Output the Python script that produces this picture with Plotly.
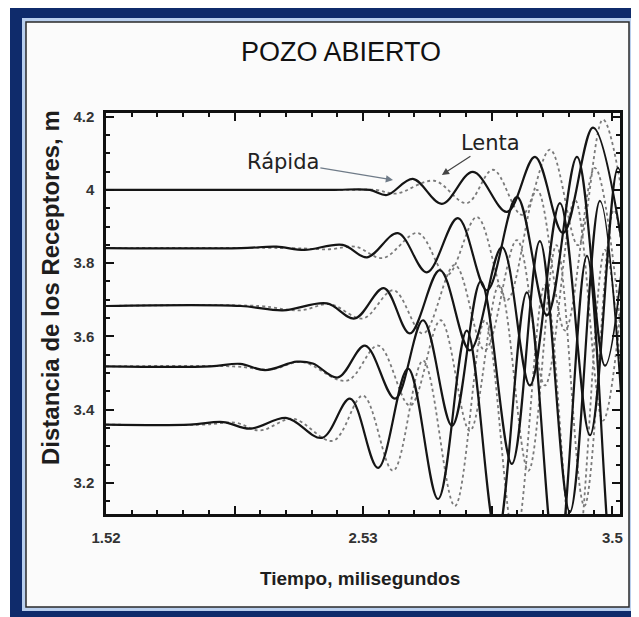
import plotly.graph_objects as go

# ---------------- data (time in ms, position in m) ----------------
x_tick_vals = [1.52, 2.025, 2.53, 3.035, 3.51]
x_tick_text = ["1.52", "", "2.53", "", "3.5"]
y_tick_vals = [3.2, 3.4, 3.6, 3.8, 4.0, 4.2]
y_tick_text = ["3.2", "3.4", "3.6", "3.8", "4", "4.2"]

# fast (Rápida) waves - solid
fast1_t = [1.52, 2.40, 2.557, 2.624, 2.726, 2.840, 2.962, 3.096, 3.206, 3.316, 3.434, 3.56]
fast1_y = [4.0, 4.0, 4.0, 3.986, 4.030, 3.962, 4.049, 3.940, 4.090, 3.882, 4.170, 3.80]
fast2_t = [1.52, 2.05, 2.19, 2.30, 2.45, 2.546, 2.667, 2.781, 2.903, 3.017, 3.135, 3.253, 3.371, 3.481, 3.59]
fast2_y = [3.841, 3.841, 3.845, 3.836, 3.850, 3.816, 3.882, 3.775, 3.923, 3.726, 3.981, 3.658, 4.090, 3.520, 4.10]
fast3_t = [1.52, 2.05, 2.215, 2.388, 2.498, 2.612, 2.714, 2.832, 2.950, 3.076, 3.186, 3.304, 3.422, 3.532, 3.64]
fast3_y = [3.683, 3.683, 3.671, 3.690, 3.649, 3.732, 3.608, 3.781, 3.562, 3.844, 3.466, 3.964, 3.330, 4.060, 3.25]
fast4_t = [1.52, 1.93, 2.047, 2.145, 2.270, 2.333, 2.432, 2.538, 2.656, 2.766, 2.880, 2.993, 3.115, 3.225, 3.343, 3.461, 3.58]
fast4_y = [3.518, 3.518, 3.525, 3.508, 3.531, 3.526, 3.488, 3.575, 3.430, 3.644, 3.356, 3.750, 3.252, 3.860, 3.120, 3.970, 3.05]
fast5_t = [1.52, 1.85, 1.980, 2.086, 2.231, 2.369, 2.479, 2.589, 2.707, 2.825, 2.938, 3.056, 3.174, 3.292, 3.410, 3.52, 3.63]
fast5_y = [3.359, 3.359, 3.366, 3.348, 3.377, 3.323, 3.430, 3.241, 3.512, 3.156, 3.616, 3.050, 3.720, 2.950, 3.820, 2.900, 3.90]

# slow (Lenta) waves - dotted
slow1_t = [1.52, 2.45, 2.580, 2.660, 2.810, 2.938, 3.041, 3.155, 3.265, 3.375, 3.473, 3.59]
slow1_y = [4.0, 4.0, 4.0, 3.990, 4.025, 3.964, 4.055, 3.932, 4.110, 3.849, 4.192, 3.80]
slow2_t = [1.52, 2.25, 2.40, 2.50, 2.608, 2.746, 2.860, 2.978, 3.096, 3.214, 3.324, 3.441, 3.56]
slow2_y = [3.841, 3.841, 3.838, 3.845, 3.814, 3.882, 3.767, 3.926, 3.699, 4.000, 3.616, 4.060, 3.50]
slow3_t = [1.52, 2.12, 2.282, 2.40, 2.530, 2.650, 2.766, 2.891, 3.009, 3.135, 3.245, 3.363, 3.473, 3.59]
slow3_y = [3.683, 3.683, 3.671, 3.688, 3.649, 3.726, 3.608, 3.795, 3.562, 3.863, 3.466, 3.973, 3.370, 4.05]
slow4_t = [1.52, 2.02, 2.17, 2.29, 2.467, 2.590, 2.715, 2.835, 2.950, 3.065, 3.180, 3.290, 3.400, 3.516, 3.63]
slow4_y = [3.518, 3.518, 3.510, 3.530, 3.479, 3.575, 3.411, 3.644, 3.342, 3.740, 3.233, 3.849, 3.137, 3.945, 3.05]
slow5_t = [1.52, 1.90, 2.03, 2.125, 2.255, 2.412, 2.530, 2.648, 2.766, 2.891, 3.009, 3.127, 3.245, 3.363, 3.481, 3.60]
slow5_y = [3.359, 3.359, 3.364, 3.343, 3.375, 3.315, 3.438, 3.233, 3.534, 3.137, 3.644, 3.041, 3.740, 2.959, 3.836, 2.90]

fast_series = [(fast1_t, fast1_y), (fast2_t, fast2_y), (fast3_t, fast3_y), (fast4_t, fast4_y), (fast5_t, fast5_y)]
slow_series = [(slow1_t, slow1_y), (slow2_t, slow2_y), (slow3_t, slow3_y), (slow4_t, slow4_y), (slow5_t, slow5_y)]

# ---------------- figure ----------------
fig = go.Figure()

for t, y in slow_series:
    fig.add_trace(go.Scatter(x=t, y=y, mode="lines",
                             line=dict(color="#7a7a7a", width=1.8, dash="dot", shape="spline", smoothing=1.0),
                             hoverinfo="skip"))
for t, y in fast_series:
    fig.add_trace(go.Scatter(x=t, y=y, mode="lines",
                             line=dict(color="#151515", width=2.2, shape="spline", smoothing=1.0),
                             hoverinfo="skip"))

# page has an 8px body margin: the figure starts at (8, 8) of the window
OFF = 8
W, H = 639 - OFF, 617 - OFF
L, T = 106 - OFF, 113 - OFF
pw, ph = 514, 401
R, B = W - L - pw, H - T - ph


def px(xs):
    """window x pixel -> paper coordinate"""
    return (xs - OFF - L) / pw


def py(ys):
    """window y pixel -> paper coordinate"""
    return (T + ph - (ys - OFF)) / ph


shapes = [
    # navy outer frame
    dict(type="rect", xref="paper", yref="paper", x0=px(10), x1=px(660), y0=py(640), y1=py(0),
         fillcolor="#0f2b6b", line=dict(width=0), layer="below"),
    # light blue inner line
    dict(type="rect", xref="paper", yref="paper", x0=px(22), x1=px(633), y0=py(611), y1=py(18),
         fillcolor="#b9cfee", line=dict(width=0), layer="below"),
    # white panel with dark edge
    dict(type="rect", xref="paper", yref="paper", x0=px(26), x1=px(629), y0=py(607), y1=py(22),
         fillcolor="#fbfbfb", line=dict(color="#2a2a2a", width=1.5), layer="below"),
]

annotations = [
    dict(text="POZO ABIERTO", xref="paper", yref="paper", x=px(341), y=py(52),
         showarrow=False, font=dict(family="Liberation Sans, Arial", size=27, color="#111111"),
         xanchor="center", yanchor="middle"),
    dict(text="Distancia de los Receptores, m", xref="paper", yref="paper", x=px(50), y=py(288),
         showarrow=False, textangle=-90,
         font=dict(family="Liberation Sans, Arial", size=24, color="#1e1e1e", weight="bold"),
         xanchor="center", yanchor="middle"),
    dict(text="Tiempo, milisegundos", xref="paper", yref="paper", x=px(360), y=py(578),
         showarrow=False, font=dict(family="Liberation Sans, Arial", size=19, color="#1e1e1e", weight="bold"),
         xanchor="center", yanchor="middle"),
    dict(text="Rápida", x=2.648, y=4.027, ax=2.215, ay=4.077, xref="x", yref="y", axref="x", ayref="y",
         showarrow=True, arrowhead=2, arrowsize=1.2, arrowwidth=1.2, arrowcolor="#6f7b88",
         font=dict(family="DejaVu Sans", size=21, color="#222222")),
    dict(text="Lenta", x=2.840, y=4.041, ax=3.033, ay=4.129, xref="x", yref="y", axref="x", ayref="y",
         showarrow=True, arrowhead=2, arrowsize=1.2, arrowwidth=1.2, arrowcolor="#444444",
         font=dict(family="DejaVu Sans", size=21, color="#222222")),
]

fig.update_layout(
    width=W, height=H, autosize=False,
    margin=dict(l=L, r=R, t=T, b=B, pad=0),
    paper_bgcolor="white", plot_bgcolor="white",
    showlegend=False, shapes=shapes, annotations=annotations,
)

axis_common = dict(showgrid=False, zeroline=False, showline=True, linecolor="#111111", linewidth=2.5,
                   mirror="allticks", ticks="inside", ticklen=8, tickwidth=2, tickcolor="#111111",
                   tickfont=dict(family="Liberation Sans, Arial", size=15, color="#333333", weight="bold"))

fig.update_xaxes(range=[1.52, 3.54], tickmode="array", tickvals=x_tick_vals, ticktext=x_tick_text,
                 ticklabelstandoff=8,
                 minor=dict(tickmode="linear", tick0=1.52, dtick=0.101, ticks="inside", ticklen=4,
                            tickwidth=1.5, tickcolor="#111111"),
                 **axis_common)
fig.update_yaxes(range=[3.115, 4.21], tickmode="array", tickvals=y_tick_vals, ticktext=y_tick_text,
                 ticklabelstandoff=6,
                 minor=dict(tickmode="linear", tick0=3.2, dtick=0.05, ticks="inside", ticklen=4,
                            tickwidth=1.5, tickcolor="#111111"),
                 **axis_common)

fig.write_html("out.html")
